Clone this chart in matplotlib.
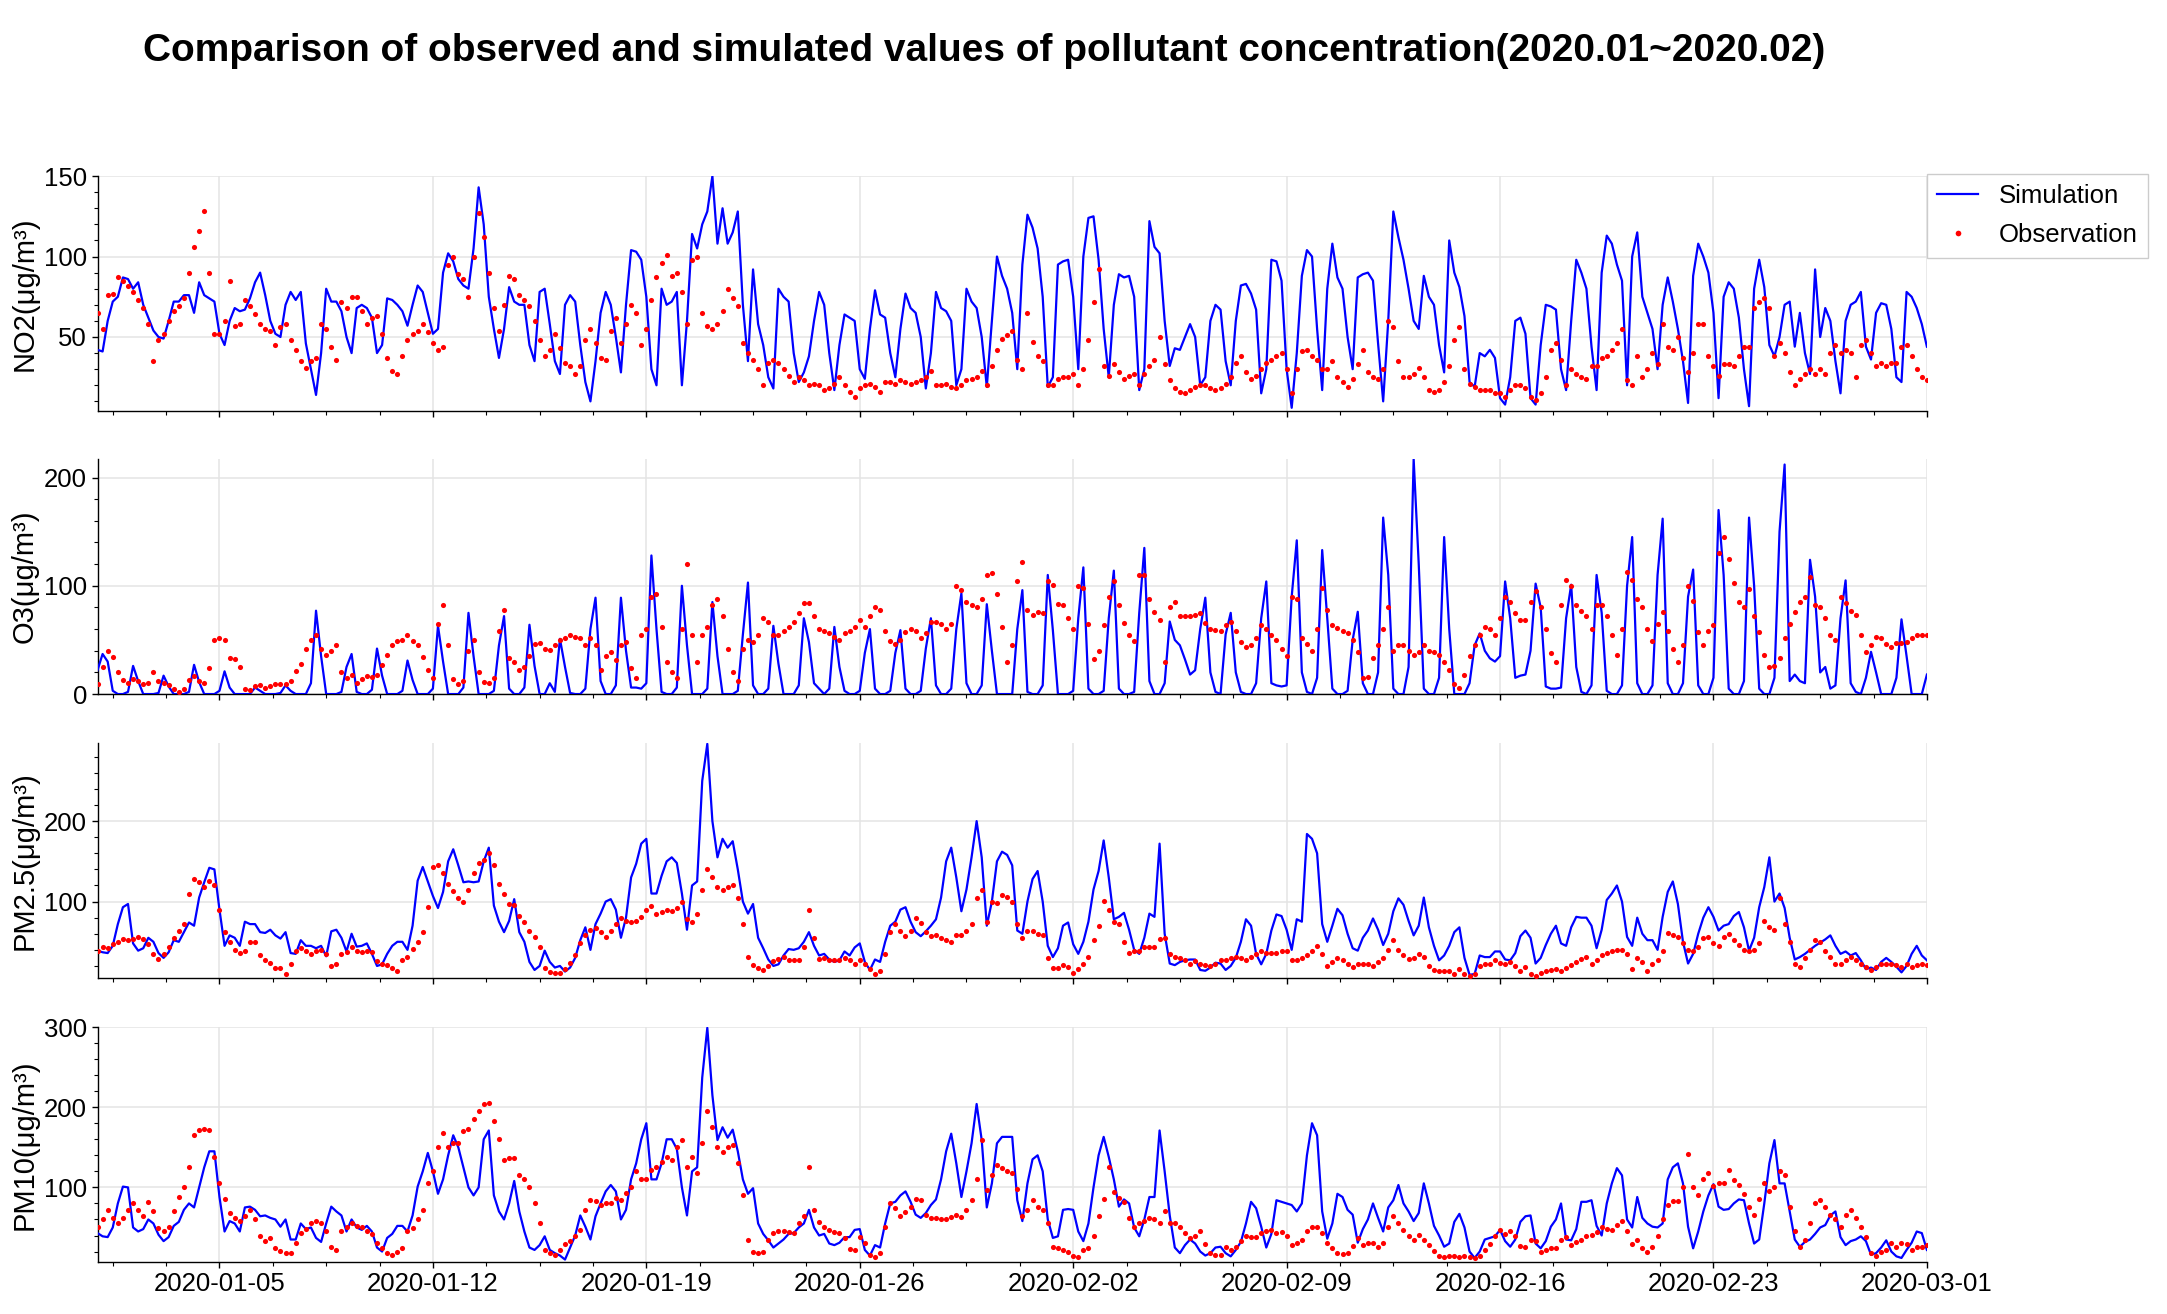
import matplotlib
matplotlib.use('Agg')
import matplotlib.pyplot as plt
import matplotlib.dates as mdates
from matplotlib.ticker import AutoMinorLocator, MultipleLocator
import pandas as pd

plt.rcParams['font.family'] = ['Liberation Sans', 'DejaVu Sans']

# 4-hourly samples, 2020-01-01 00:00 .. 2020-03-01 00:00
times = pd.date_range('2020-01-01 00:00', periods=361, freq='4h')

no2_sim = [
    42, 41, 60, 72, 75, 87, 86, 80, 84, 70, 62, 54, 50, 49, 60, 72, 72, 76,
    76, 65, 84, 76, 74, 72, 52, 45, 60, 68, 66, 67, 74, 84, 90, 76, 60, 52,
    50, 70, 78, 73, 78, 46, 30, 14, 40, 80, 72, 72, 66, 50, 40, 68, 70, 68,
    62, 40, 45, 74, 73, 70, 66, 57, 70, 82, 78, 65, 52, 55, 90, 102, 97, 86,
    82, 80, 105, 143, 120, 75, 55, 37, 55, 81, 72, 70, 70, 45, 35, 78, 80, 58,
    35, 27, 70, 76, 72, 45, 22, 10, 35, 65, 78, 70, 50, 28, 70, 104, 103, 98,
    75, 30, 20, 80, 70, 72, 78, 20, 60, 114, 105, 120, 128, 150, 108, 130, 108, 115,
    128, 70, 35, 92, 58, 45, 25, 18, 80, 75, 72, 40, 22, 28, 38, 60, 78, 70,
    40, 17, 45, 64, 62, 60, 30, 24, 55, 79, 64, 62, 40, 25, 55, 77, 68, 65,
    50, 18, 40, 78, 68, 66, 60, 20, 30, 80, 72, 68, 50, 19, 60, 100, 88, 80,
    65, 30, 95, 126, 118, 105, 75, 19, 25, 95, 97, 98, 75, 30, 100, 124, 125, 98,
    55, 25, 70, 89, 87, 88, 75, 17, 30, 122, 106, 102, 60, 32, 43, 42, 50, 58,
    50, 20, 25, 60, 70, 67, 35, 20, 60, 82, 83, 77, 67, 15, 30, 98, 97, 85,
    30, 6, 40, 88, 104, 100, 55, 17, 80, 108, 87, 80, 50, 30, 87, 89, 90, 85,
    46, 10, 60, 128, 112, 98, 80, 60, 55, 88, 75, 70, 45, 28, 110, 90, 81, 63,
    22, 19, 40, 38, 42, 37, 12, 8, 25, 60, 62, 52, 12, 8, 45, 70, 69, 67,
    30, 17, 60, 98, 90, 80, 44, 17, 90, 113, 108, 95, 85, 20, 100, 115, 75, 65,
    55, 30, 70, 87, 72, 55, 35, 9, 88, 108, 100, 90, 65, 12, 75, 84, 80, 62,
    30, 7, 80, 98, 81, 45, 38, 50, 70, 72, 44, 65, 40, 27, 92, 50, 68, 60,
    35, 15, 60, 70, 72, 78, 44, 36, 65, 71, 70, 55, 25, 22, 78, 75, 68, 58,
    44]
no2_obs = [
    65, 55, 76, 77, 87, 85, 82, 78, 73, 68, 58, 35, 48, 52, 60, 66, 69, 74,
    90, 106, 116, 128, 90, 52, 52, 60, 85, 57, 58, 73, 69, 64, 58, 55, 54, 45,
    56, 58, 48, 42, 35, 31, 35, 37, 58, 55, 44, 36, 72, 68, 75, 75, 66, 58,
    62, 63, 52, 37, 29, 27, 38, 48, 52, 54, 58, 53, 46, 42, 44, 95, 100, 89,
    86, 75, 100, 127, 112, 90, 68, 54, 70, 88, 86, 76, 73, 69, 60, 48, 38, 42,
    52, 43, 34, 32, 27, 32, 48, 55, 46, 37, 36, 54, 62, 46, 58, 70, 65, 45,
    55, 73, 87, 96, 101, 88, 90, 78, 58, 98, 100, 65, 57, 55, 58, 66, 80, 74,
    69, 46, 40, 36, 30, 20, 34, 36, 34, 30, 26, 22, 25, 23, 20, 21, 20, 17,
    18, 21, 25, 20, 16, 13, 18, 20, 21, 19, 16, 22, 22, 21, 23, 22, 21, 22,
    23, 25, 29, 20, 20, 21, 19, 18, 20, 23, 24, 25, 29, 20, 32, 42, 49, 51,
    54, 36, 30, 65, 47, 38, 35, 20, 20, 24, 25, 25, 27, 20, 30, 48, 72, 92,
    32, 26, 33, 28, 24, 26, 27, 20, 27, 32, 36, 50, 33, 23, 18, 16, 15, 17,
    19, 20, 20, 18, 17, 18, 21, 25, 34, 38, 28, 24, 26, 30, 34, 36, 38, 40,
    30, 15, 30, 41, 42, 38, 36, 30, 30, 35, 25, 22, 19, 24, 33, 42, 28, 25,
    24, 30, 60, 56, 35, 25, 25, 27, 31, 25, 17, 16, 17, 22, 32, 48, 56, 30,
    21, 19, 17, 17, 17, 15, 15, 13, 17, 20, 20, 18, 13, 11, 15, 25, 42, 46,
    36, 20, 30, 27, 25, 24, 32, 32, 37, 38, 42, 46, 55, 23, 20, 38, 25, 30,
    40, 33, 58, 44, 42, 50, 37, 28, 40, 58, 58, 38, 32, 26, 33, 33, 32, 38,
    44, 44, 68, 72, 74, 68, 38, 46, 40, 28, 20, 24, 27, 30, 27, 30, 27, 40,
    45, 40, 42, 40, 25, 45, 48, 40, 32, 34, 32, 34, 34, 44, 45, 38, 30, 25,
    23]

o3_sim = [
    22, 37, 30, 3, 0, 0, 2, 26, 12, 0, 0, 0, 1, 17, 7, 0, 0, 0,
    2, 27, 11, 0, 0, 0, 3, 21, 6, 0, 0, 0, 0, 6, 3, 0, 0, 0,
    1, 8, 3, 0, 0, 0, 10, 77, 35, 0, 0, 0, 2, 25, 37, 2, 0, 0,
    4, 42, 17, 0, 0, 0, 3, 31, 13, 0, 0, 0, 5, 63, 30, 0, 0, 0,
    6, 75, 35, 0, 0, 0, 3, 45, 72, 5, 0, 0, 6, 64, 26, 0, 0, 10,
    2, 51, 25, 1, 0, 0, 5, 60, 89, 12, 0, 0, 8, 89, 40, 6, 6, 5,
    10, 128, 60, 2, 0, 0, 6, 100, 45, 0, 0, 0, 5, 85, 35, 0, 0, 0,
    3, 55, 103, 8, 0, 0, 5, 63, 28, 0, 0, 0, 8, 70, 48, 10, 5, 0,
    5, 62, 25, 3, 0, 0, 3, 38, 60, 5, 0, 0, 3, 38, 59, 5, 0, 0,
    3, 42, 70, 8, 0, 0, 5, 60, 93, 10, 0, 0, 8, 83, 40, 0, 0, 0,
    0, 60, 96, 2, 0, 0, 8, 110, 59, 0, 0, 0, 3, 70, 117, 5, 0, 0,
    3, 70, 114, 5, 0, 0, 2, 75, 135, 12, 0, 0, 10, 67, 50, 45, 32, 18,
    22, 60, 89, 20, 2, 0, 55, 75, 20, 2, 0, 0, 10, 70, 104, 10, 8, 7,
    8, 90, 142, 20, 2, 0, 15, 133, 70, 5, 0, 0, 3, 50, 76, 10, 0, 0,
    20, 163, 110, 5, 0, 0, 25, 217, 120, 5, 0, 0, 15, 145, 60, 0, 0, 0,
    10, 45, 56, 40, 33, 30, 35, 104, 70, 15, 17, 18, 40, 102, 80, 7, 5, 5,
    6, 70, 101, 25, 2, 0, 8, 110, 75, 3, 0, 0, 8, 100, 145, 10, 0, 0,
    8, 110, 162, 10, 0, 0, 10, 90, 115, 8, 0, 0, 15, 170, 110, 5, 0, 0,
    12, 163, 100, 5, 0, 0, 15, 150, 212, 12, 18, 12, 10, 124, 90, 20, 25, 5,
    8, 70, 105, 10, 2, 0, 15, 39, 20, 0, 0, 0, 15, 69, 35, 0, 0, 0,
    18]
o3_obs = [
    9, 25, 40, 34, 20, 13, 10, 14, 12, 9, 10, 20, 12, 10, 8, 5, 2, 5,
    13, 17, 12, 10, 24, 50, 52, 50, 33, 32, 25, 5, 4, 7, 8, 6, 7, 9,
    9, 9, 12, 21, 28, 42, 50, 55, 42, 36, 40, 45, 20, 15, 18, 10, 14, 17,
    16, 18, 27, 36, 45, 49, 50, 55, 49, 45, 34, 22, 15, 65, 82, 45, 14, 9,
    12, 40, 50, 20, 11, 10, 15, 58, 78, 33, 30, 22, 25, 35, 46, 47, 42, 41,
    45, 50, 52, 55, 53, 52, 45, 52, 45, 22, 35, 39, 31, 45, 48, 24, 15, 55,
    60, 90, 92, 62, 30, 20, 15, 60, 120, 55, 30, 55, 62, 82, 88, 72, 42, 20,
    12, 42, 50, 48, 55, 70, 67, 55, 55, 58, 62, 67, 75, 84, 84, 72, 60, 58,
    56, 53, 50, 56, 58, 62, 68, 62, 72, 80, 78, 58, 49, 46, 50, 57, 60, 58,
    52, 56, 67, 67, 65, 60, 65, 100, 96, 85, 82, 80, 88, 110, 112, 92, 62, 30,
    45, 104, 122, 78, 73, 76, 75, 104, 101, 83, 82, 70, 60, 100, 98, 65, 32, 40,
    64, 90, 104, 82, 66, 55, 49, 110, 110, 88, 76, 68, 30, 80, 85, 72, 72, 72,
    73, 75, 66, 60, 59, 58, 64, 67, 58, 48, 43, 45, 52, 64, 60, 55, 50, 42,
    35, 90, 88, 52, 46, 40, 60, 98, 78, 64, 61, 58, 56, 50, 39, 15, 16, 33,
    45, 60, 80, 40, 45, 45, 40, 36, 39, 45, 40, 39, 36, 30, 22, 9, 6, 18,
    35, 45, 55, 62, 60, 55, 70, 90, 85, 75, 68, 68, 85, 95, 80, 60, 38, 30,
    82, 105, 100, 82, 77, 72, 60, 82, 82, 72, 55, 36, 60, 113, 105, 88, 80, 60,
    49, 65, 76, 58, 42, 30, 45, 100, 86, 57, 45, 58, 64, 130, 145, 125, 103, 85,
    80, 97, 72, 57, 36, 25, 26, 33, 52, 65, 76, 85, 90, 108, 82, 80, 70, 55,
    50, 90, 84, 77, 73, 55, 39, 45, 53, 52, 46, 43, 47, 47, 48, 52, 55, 55,
    55]

pm25_sim = [
    39, 37, 36, 45, 72, 93, 97, 48, 39, 42, 55, 50, 36, 30, 37, 52, 50, 62,
    74, 70, 105, 124, 142, 140, 90, 45, 58, 55, 45, 75, 72, 72, 62, 61, 65, 58,
    54, 62, 36, 35, 52, 45, 45, 42, 45, 32, 63, 65, 55, 38, 60, 44, 45, 48,
    35, 20, 22, 35, 45, 50, 50, 40, 70, 126, 143, 125, 107, 92, 112, 150, 165, 145,
    124, 125, 124, 125, 150, 167, 95, 75, 62, 76, 103, 62, 50, 25, 15, 20, 39, 25,
    18, 20, 13, 18, 30, 52, 68, 40, 72, 85, 100, 103, 90, 55, 80, 130, 147, 172,
    178, 110, 110, 132, 150, 155, 148, 110, 65, 120, 125, 250, 296, 200, 155, 178, 167, 175,
    140, 100, 85, 97, 55, 42, 28, 20, 22, 33, 41, 40, 42, 50, 62, 45, 33, 35,
    28, 25, 27, 38, 33, 43, 48, 25, 15, 28, 25, 50, 70, 75, 90, 93, 75, 62,
    57, 63, 70, 78, 105, 150, 167, 130, 88, 115, 155, 200, 155, 70, 100, 150, 162, 158,
    145, 64, 60, 100, 128, 138, 100, 45, 31, 42, 70, 74, 47, 35, 50, 75, 115, 138,
    176, 130, 78, 81, 86, 65, 40, 35, 55, 85, 81, 172, 60, 23, 21, 25, 27, 28,
    28, 15, 14, 18, 24, 23, 15, 20, 30, 50, 78, 70, 35, 22, 35, 64, 84, 82,
    65, 40, 78, 75, 184, 178, 160, 72, 50, 70, 91, 83, 60, 42, 39, 55, 64, 79,
    65, 46, 60, 88, 104, 96, 76, 58, 70, 105, 68, 45, 27, 33, 45, 62, 68, 30,
    9, 10, 33, 31, 31, 38, 38, 28, 27, 36, 57, 64, 55, 23, 30, 46, 60, 70,
    48, 45, 68, 81, 80, 80, 70, 42, 65, 102, 110, 120, 100, 56, 45, 80, 60, 52,
    52, 40, 81, 112, 125, 97, 50, 23, 35, 60, 80, 93, 81, 64, 70, 72, 82, 87,
    68, 39, 55, 93, 118, 155, 100, 110, 92, 55, 28, 31, 35, 40, 45, 49, 53, 58,
    45, 35, 38, 33, 36, 27, 16, 18, 15, 25, 30, 25, 19, 12, 20, 35, 45, 33,
    27]
pm25_obs = [
    39, 43, 42, 47, 50, 54, 52, 54, 56, 53, 47, 35, 29, 35, 43, 55, 64, 72,
    110, 128, 124, 118, 125, 120, 90, 62, 50, 40, 36, 39, 50, 50, 33, 28, 24, 17,
    17, 10, 22, 39, 42, 39, 35, 39, 40, 35, 20, 23, 35, 37, 43, 39, 37, 39,
    37, 26, 23, 21, 17, 14, 27, 31, 41, 50, 62, 93, 143, 145, 135, 122, 113, 105,
    100, 115, 136, 148, 152, 160, 145, 122, 110, 97, 96, 82, 74, 64, 56, 43, 18, 13,
    11, 11, 16, 24, 33, 48, 58, 65, 67, 62, 56, 64, 72, 79, 76, 75, 76, 81,
    90, 95, 84, 87, 89, 88, 92, 100, 78, 75, 85, 114, 140, 130, 118, 114, 118, 120,
    105, 72, 31, 21, 17, 15, 20, 26, 29, 31, 28, 27, 27, 43, 90, 55, 29, 30,
    28, 27, 27, 30, 27, 23, 27, 22, 16, 10, 14, 35, 62, 72, 64, 57, 64, 80,
    73, 62, 57, 59, 55, 52, 50, 58, 58, 64, 72, 105, 114, 75, 100, 98, 108, 106,
    100, 72, 55, 63, 64, 60, 58, 30, 17, 18, 21, 19, 11, 16, 23, 31, 52, 70,
    101, 90, 74, 72, 50, 36, 38, 39, 43, 43, 43, 53, 55, 35, 31, 30, 27, 23,
    26, 23, 21, 20, 23, 27, 27, 30, 31, 30, 28, 31, 35, 38, 36, 36, 36, 39,
    38, 28, 27, 30, 33, 38, 45, 35, 20, 25, 30, 27, 22, 19, 23, 23, 23, 20,
    25, 30, 40, 52, 40, 33, 29, 30, 35, 31, 20, 15, 14, 14, 14, 10, 16, 10,
    7, 10, 20, 23, 23, 27, 24, 23, 25, 20, 14, 19, 10, 8, 11, 14, 15, 16,
    14, 17, 21, 25, 29, 31, 23, 27, 34, 36, 38, 40, 40, 35, 16, 30, 25, 14,
    22, 27, 39, 61, 59, 56, 48, 40, 39, 43, 55, 56, 48, 45, 56, 60, 52, 46,
    40, 39, 40, 48, 76, 68, 65, 105, 72, 50, 23, 19, 30, 40, 52, 50, 39, 31,
    23, 23, 27, 31, 27, 22, 19, 15, 19, 23, 23, 22, 21, 19, 23, 19, 21, 23,
    21]

pm10_sim = [
    43, 39, 38, 50, 80, 101, 100, 50, 45, 48, 60, 55, 41, 33, 38, 52, 57, 72,
    80, 75, 100, 125, 145, 145, 88, 45, 58, 55, 45, 75, 76, 72, 64, 65, 62, 60,
    51, 60, 35, 35, 55, 48, 50, 37, 32, 55, 76, 70, 65, 45, 60, 50, 47, 52,
    45, 25, 20, 37, 42, 52, 52, 45, 65, 101, 120, 143, 120, 92, 110, 140, 165, 150,
    125, 100, 90, 100, 160, 171, 90, 70, 60, 80, 108, 70, 45, 25, 22, 28, 39, 22,
    18, 15, 10, 25, 40, 65, 51, 35, 64, 80, 95, 103, 95, 60, 72, 110, 130, 160,
    180, 110, 110, 130, 160, 160, 148, 100, 65, 120, 125, 237, 299, 215, 159, 175, 162, 172,
    145, 110, 92, 99, 55, 42, 34, 25, 30, 35, 42, 43, 50, 55, 72, 50, 40, 42,
    30, 28, 31, 38, 38, 47, 48, 22, 15, 28, 25, 55, 80, 82, 90, 95, 82, 66,
    62, 68, 78, 85, 110, 145, 167, 130, 88, 120, 155, 204, 159, 75, 105, 155, 163, 163,
    163, 84, 58, 105, 135, 140, 120, 60, 37, 39, 72, 73, 72, 45, 33, 55, 100, 140,
    163, 138, 110, 76, 85, 80, 50, 39, 60, 88, 88, 171, 120, 65, 25, 18, 28, 35,
    30, 20, 15, 18, 25, 26, 18, 14, 22, 32, 55, 82, 74, 51, 25, 42, 84, 82,
    80, 78, 70, 80, 140, 180, 165, 70, 36, 55, 92, 88, 72, 66, 31, 48, 60, 80,
    62, 45, 75, 84, 103, 80, 70, 58, 68, 105, 80, 52, 40, 26, 30, 57, 67, 50,
    20, 12, 20, 35, 37, 39, 47, 33, 26, 35, 57, 64, 65, 30, 24, 33, 51, 60,
    80, 35, 34, 48, 82, 82, 84, 52, 40, 80, 105, 124, 115, 60, 50, 88, 62, 55,
    51, 50, 55, 110, 125, 130, 105, 51, 24, 45, 70, 90, 104, 76, 72, 73, 80, 85,
    84, 55, 30, 35, 80, 130, 159, 105, 105, 70, 35, 26, 32, 35, 42, 50, 53, 65,
    70, 38, 28, 33, 35, 39, 33, 16, 18, 25, 34, 20, 14, 12, 22, 31, 45, 43,
    22]
pm10_obs = [
    51, 60, 72, 62, 55, 62, 72, 80, 72, 64, 82, 70, 49, 45, 51, 70, 88, 100,
    126, 165, 171, 173, 172, 138, 105, 85, 68, 62, 58, 64, 72, 60, 39, 33, 37, 24,
    21, 18, 18, 31, 43, 48, 55, 58, 56, 45, 26, 22, 45, 50, 55, 52, 51, 46,
    42, 31, 24, 18, 16, 19, 24, 45, 49, 60, 72, 105, 120, 150, 168, 150, 155, 155,
    170, 173, 185, 195, 204, 205, 183, 160, 134, 137, 137, 115, 111, 101, 80, 55, 22, 18,
    16, 22, 30, 33, 39, 47, 72, 84, 83, 78, 80, 80, 87, 84, 93, 101, 120, 110,
    110, 122, 126, 132, 138, 134, 150, 159, 126, 138, 118, 155, 195, 175, 150, 144, 150, 153,
    130, 90, 35, 20, 18, 20, 35, 43, 46, 45, 44, 43, 55, 64, 125, 72, 57, 51,
    47, 44, 43, 37, 23, 22, 38, 31, 16, 13, 18, 50, 80, 74, 64, 69, 76, 86,
    84, 66, 62, 62, 61, 61, 63, 66, 63, 72, 84, 110, 159, 97, 115, 128, 124, 121,
    118, 98, 64, 72, 84, 75, 72, 55, 26, 24, 22, 20, 14, 13, 22, 25, 40, 64,
    85, 126, 94, 87, 82, 62, 51, 55, 58, 62, 60, 55, 70, 55, 55, 50, 43, 37,
    39, 45, 30, 18, 16, 16, 26, 22, 26, 33, 39, 38, 38, 43, 46, 47, 43, 44,
    39, 28, 31, 35, 45, 51, 51, 43, 31, 24, 18, 17, 18, 27, 37, 28, 31, 31,
    26, 31, 50, 64, 55, 47, 39, 35, 41, 35, 28, 21, 14, 13, 14, 15, 13, 14,
    13, 12, 15, 22, 30, 40, 47, 42, 46, 40, 27, 26, 35, 33, 19, 22, 24, 24,
    35, 38, 28, 32, 35, 39, 41, 44, 50, 48, 47, 53, 58, 45, 29, 35, 25, 19,
    26, 40, 60, 78, 83, 83, 100, 142, 100, 91, 110, 118, 102, 106, 105, 122, 109, 103,
    92, 76, 65, 85, 105, 95, 101, 120, 115, 75, 46, 26, 35, 55, 80, 84, 76, 66,
    60, 50, 65, 72, 62, 51, 38, 18, 14, 20, 22, 31, 26, 31, 30, 22, 26, 26,
    28]

ylabels = ['NO2(μg/m³)', 'O3(μg/m³)', 'PM2.5(μg/m³)', 'PM10(μg/m³)']
sims = [no2_sim, o3_sim, pm25_sim, pm10_sim]
obss = [no2_obs, o3_obs, pm25_obs, pm10_obs]
ylims = [(4, 150), (0, 217), (5, 297), (7, 300)]
ysteps = [50, 100, 100, 100]

fig = plt.figure(figsize=(21.67, 13.14), dpi=100)
bottoms = [0.6872, 0.4718, 0.2557, 0.0396]

axes = []
for i in range(4):
    ax = fig.add_axes([0.045, bottoms[i], 0.8442, 0.1788])
    ax.plot(times, sims[i], color='blue', lw=1.6, label='Simulation', zorder=3)
    ax.plot(times, obss[i], 'o', color='red', ms=3.7, mew=0, label='Observation', zorder=4)
    ax.set_xlim(times[0], times[-1])
    ax.set_ylim(*ylims[i])
    ax.yaxis.set_major_locator(MultipleLocator(ysteps[i]))
    ax.yaxis.set_minor_locator(AutoMinorLocator())
    ax.xaxis.set_major_locator(mdates.WeekdayLocator(byweekday=mdates.SU))
    ax.xaxis.set_major_formatter(mdates.DateFormatter('%Y-%m-%d'))
    ax.xaxis.set_minor_locator(AutoMinorLocator(4))
    ax.grid(True, which='major', color='#e4e4e4', lw=1.1)
    ax.set_axisbelow(True)
    for s in ['top', 'right']:
        ax.spines[s].set_visible(False)
    for s in ['left', 'bottom']:
        ax.spines[s].set_color('black')
        ax.spines[s].set_linewidth(1.0)
    ax.tick_params(which='major', length=4, width=1, labelsize=18.5)
    ax.tick_params(which='minor', length=3, width=0.8)
    if i < 3:
        ax.tick_params(axis='x', labelbottom=False)
    ax.set_ylabel(ylabels[i], fontsize=21)
    ax.yaxis.set_label_coords(-0.032, 0.5)
    axes.append(ax)

axes[0].legend(loc='upper left', bbox_to_anchor=(1.0, 1.01), borderaxespad=0,
               fancybox=False, edgecolor='#cccccc', fontsize=18.5,
               handlelength=1.6, labelspacing=0.6, markerscale=1.1, framealpha=1)

fig.text(0.454, 0.961,
         'Comparison of observed and simulated values of pollutant concentration(2020.01~2020.02)',
         ha='center', va='center', fontsize=28, fontweight='bold')

fig.savefig('out.png', dpi=100)
